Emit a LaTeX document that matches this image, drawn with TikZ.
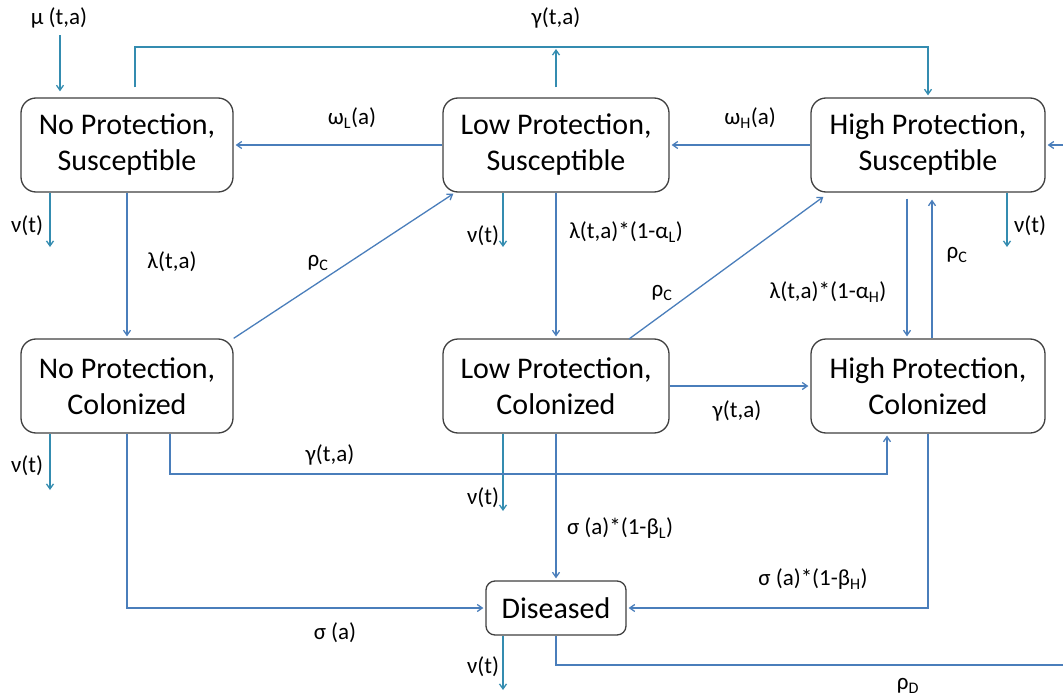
\documentclass[tikz,border=0pt]{standalone}
\usepackage{fontspec}
\setmainfont{Carlito}
\usetikzlibrary{arrows.meta}
\definecolor{tealc}{RGB}{52,140,176}
\definecolor{bluec}{RGB}{74,126,187}
\definecolor{boxc}{RGB}{64,64,64}
\newcommand{\lsub}[1]{\textsubscript{#1}}
\begin{document}
\begin{tikzpicture}[x=1pt,y=-1pt,
  state/.style={draw=boxc, line width=1.3pt, rounded corners=15pt, fill=white, align=center, font=\fontsize{30}{36}\selectfont, inner sep=0pt},
  lab/.style={font=\fontsize{23}{26}\selectfont, inner sep=1pt},
  arrT/.style={draw=tealc, line width=1.3pt, -{Straight Barb[length=5pt,width=7pt]}},
  arrB/.style={draw=bluec, line width=1.3pt, -{Straight Barb[length=5pt,width=7pt]}},
  lineB/.style={draw=bluec, line width=1.3pt}]
\useasboundingbox (0,0) rectangle (1063,698);
% states
\node[state, minimum width=212pt, minimum height=94pt] (nps) at (127,145) {No Protection,\\Susceptible};
\node[state, minimum width=226pt, minimum height=94pt] (lps) at (556,145) {Low Protection,\\Susceptible};
\node[state, minimum width=234pt, minimum height=94pt] (hps) at (928,145) {High Protection,\\Susceptible};
\node[state, minimum width=212pt, minimum height=94pt] (npc) at (127,386) {No Protection,\\Colonized};
\node[state, minimum width=226pt, minimum height=94pt] (lpc) at (556,386) {Low Protection,\\Colonized};
\node[state, minimum width=234pt, minimum height=94pt] (hpc) at (928,386) {High Protection,\\Colonized};
\node[state, rounded corners=9pt, minimum width=140pt, minimum height=54pt] (dis) at (556,608) {Diseased};
% coordinates
\coordinate (tA) at (135,47);
\coordinate (tB) at (928,47);
\coordinate (mu) at (60,0);
\coordinate (nu1) at (50,247);
\coordinate (nu2) at (503,247);
\coordinate (nu3) at (1007,247);
\coordinate (nu4) at (50,490);
\coordinate (nu5) at (503,511);
\coordinate (nu6) at (503,690);
\coordinate (lh) at (907,0);
\coordinate (rc) at (932,0);
\coordinate (g1) at (170,474);
\coordinate (g2) at (887,474);
\coordinate (rE) at (1063,145);
\coordinate (rD) at (1063,665);
\coordinate (d1) at (455,0);
\coordinate (d2) at (829,0);
\coordinate (d2s) at (629,339);
% labels
\node[lab] (lmu) at (59,18) {μ (t,a)};
\node[lab] (lgtop) at (556,18) {γ(t,a)};
\node[lab] (lwl) at (352,118) {ω\lsub{L}(a)};
\node[lab] (lwh) at (750,118) {ω\lsub{H}(a)};
\node[lab] (ln1) at (27,226) {ν(t)};
\node[lab] (llam) at (172,262) {λ(t,a)};
\node[lab] (lrc1) at (318,263) {ρ\lsub{C}};
\node[lab] (ln2) at (483,236) {ν(t)};
\node[lab] (llamL) at (626,232) {λ(t,a)*(1-α\lsub{L})};
\node[lab] (lrc2) at (662,293) {ρ\lsub{C}};
\node[lab] (llamH) at (828,292) {λ(t,a)*(1-α\lsub{H})};
\node[lab] (lrc3) at (957,255) {ρ\lsub{C}};
\node[lab] (ln3) at (1030,226) {ν(t)};
\node[lab] (lgmid) at (737,411) {γ(t,a)};
\node[lab] (lglow) at (330,455) {γ(t,a)};
\node[lab] (ln4) at (27,466) {ν(t)};
\node[lab] (ln5) at (483,498) {ν(t)};
\node[lab] (lsbl) at (620,528) {σ (a)*(1-β\lsub{L})};
\node[lab] (lsbh) at (813,579) {σ (a)*(1-β\lsub{H})};
\node[lab] (lsig) at (335,633) {σ (a)};
\node[lab] (ln6) at (483,667) {ν(t)};
\node[lab] (lrd) at (908,686) {ρ\lsub{D}};
% connectors
\draw[arrT, shorten >=6pt] (lmu.south -| mu) ++(0,6) -- (mu |- nps.north);
\draw[arrT, shorten <=10pt, shorten >=2pt] (tA |- nps.north) -- (tA) -- (tB) -- (tB |- hps.north);
\draw[arrT, shorten <=10pt, shorten >=2pt] (lps.north) -- (lps.north |- tA);
\draw[arrB, shorten >=2pt] (lps.west) -- (nps.east);
\draw[arrB, shorten >=2pt] (hps.west) -- (lps.east);
\draw[arrB, shorten >=2pt] (rE) -- (hps.east);
\draw[arrT] (nu1 |- nps.south) -- (nu1);
\draw[arrT] (nu2 |- lps.south) -- (nu2);
\draw[arrT] (nu3 |- hps.south) -- (nu3);
\draw[arrT] (nu4 |- npc.south) -- (nu4);
\draw[arrT] (nu5 |- lpc.south) -- (nu5);
\draw[arrT] (nu6 |- dis.south) -- (nu6);
\draw[arrB, shorten >=2pt] (nps.south) -- (npc.north);
\draw[arrB, shorten >=2pt] (lps.south) -- (lpc.north);
\draw[arrB, shorten <=6pt, shorten >=2pt] (lh |- hps.south) -- (lh |- hpc.north);
\draw[arrB, shorten >=7pt] (rc |- hpc.north) -- (rc |- hps.south);
\draw[arrB, shorten >=2pt] (npc.north east) -- (d1 |- lps.south);
\draw[arrB, shorten >=7pt] (d2s) -- (d2 |- hps.south);
\draw[arrB, shorten >=2pt] (lpc.east) -- (hpc.west);
\draw[arrB, shorten >=2pt] (g1 |- npc.south) -- (g1) -- (g2) -- (g2 |- hpc.south);
\draw[arrB, shorten >=2pt] (npc.south) |- (dis.west);
\draw[arrB, shorten >=2pt] (lpc.south) -- (dis.north);
\draw[arrB, shorten >=2pt] (hpc.south) |- (dis.east);
\draw[lineB] (dis.south) |- (rD);
\end{tikzpicture}
\end{document}
